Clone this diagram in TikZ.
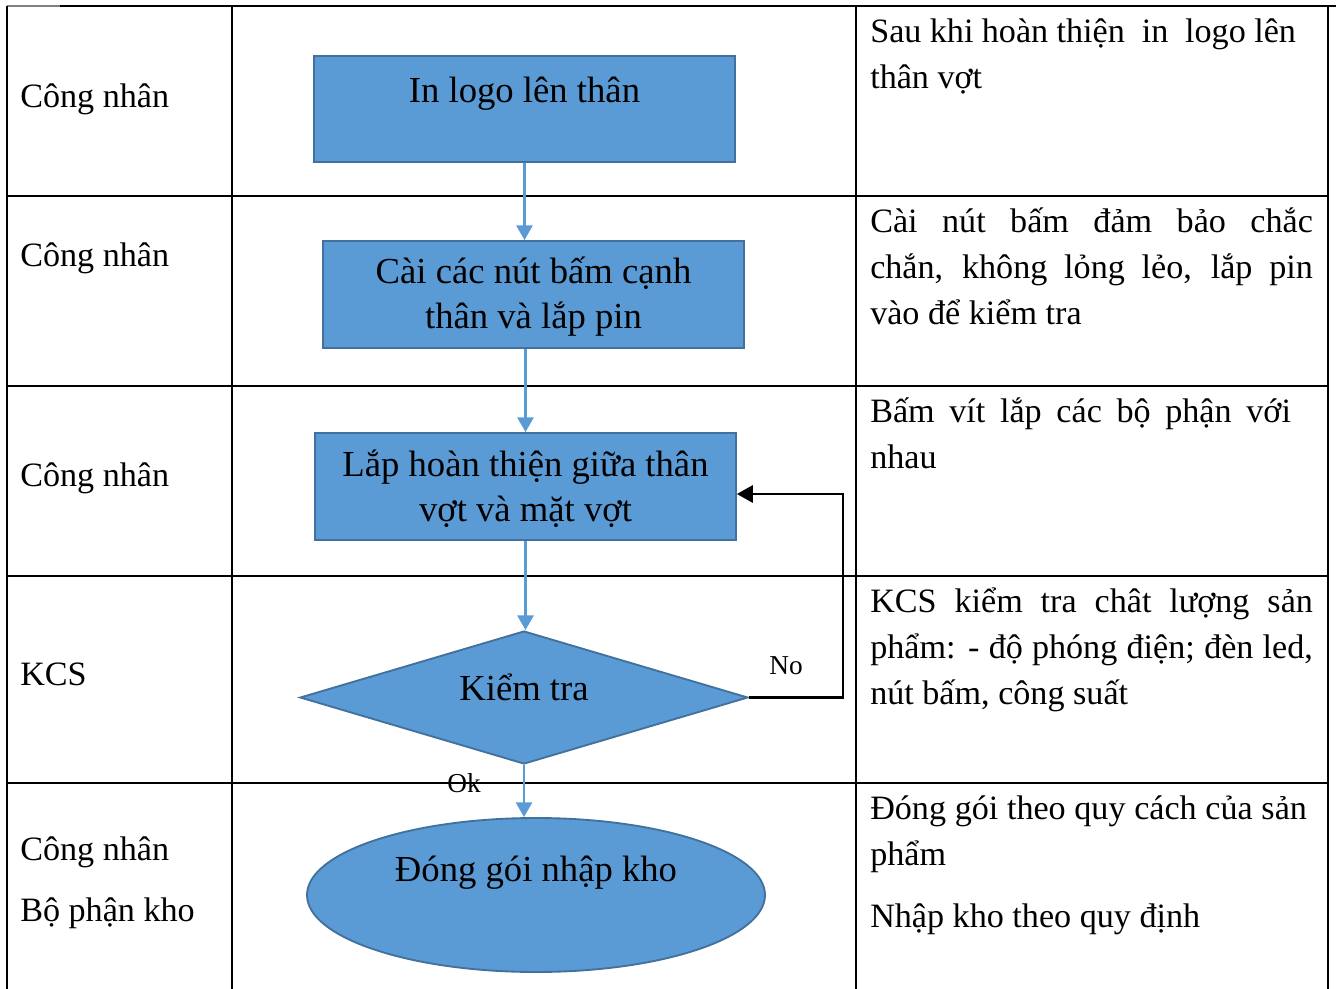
\documentclass[tikz,border=0pt]{standalone}
\usepackage{fontspec}
\setmainfont{Liberation Serif}
\usetikzlibrary{arrows.meta, shapes.geometric}

\definecolor{stepblue}{HTML}{5B9BD5}
\definecolor{stepedge}{HTML}{41719C}

\begin{document}
\begin{tikzpicture}
  [
    x=0.75pt, y=-0.75pt,
    grid/.style={line width=0.8pt},
    celltext/.style={anchor=base west, inner sep=0pt,
      font=\fontsize{25.6pt}{34.5pt}\selectfont},
    notetext/.style={celltext, text width=332pt, align=justify},
    stepbox/.style={draw=stepedge, line width=1.4pt, fill=stepblue,
      rectangle, minimum width=315.75pt, align=center,
      font=\fontsize{27.5pt}{33.75pt}\selectfont},
    checkbox/.style={stepbox, diamond, aspect=3.4, inner sep=0pt,
      minimum width=336pt, minimum height=99.75pt},
    endbox/.style={stepbox, ellipse, inner sep=0pt,
      minimum width=343.5pt, minimum height=115.5pt},
    flow/.style={draw=stepblue, line width=2pt,
      -{Triangle[length=11pt,width=12pt]}},
    back/.style={draw=black, line width=1.8pt,
      -{Triangle[length=12pt,width=13pt]}},
    branch/.style={inner sep=0pt, font=\fontsize{20.5pt}{24pt}\selectfont}
  ]
  \useasboundingbox (0,0) rectangle (1336,989);

  % table
  \draw[line width=1.3pt, gray] (7,6) -- (60,6);
  \draw[line width=1.3pt] (60,6) -- (1336,6);
  \foreach \x in {7,232,856,1328}
    \draw[grid] (\x,6) -- (\x,989);
  \foreach \y in {196,386,576,783}
    \draw[grid] (7,\y) -- (1328,\y);

  % who
  \node[celltext] (who1) at (20,107) {Công nhân};
  \node[celltext] (who2) at (20,266) {Công nhân};
  \node[celltext] (who3) at (20,486) {Công nhân};
  \node[celltext] (who4) at (20,685) {KCS};
  \node[celltext] (who5) at (20,860) {Công nhân};
  \node[celltext] (who6) at (20,921) {Bộ phận kho};

  % notes
  \node[notetext] (note1) at (870,42)
    {Sau khi hoàn thiện\ \ in\ \ logo lên\hspace*{12.75pt}\linebreak thân vợt};
  \node[notetext] (note2) at (870,232)
    {Cài nút bấm đảm bảo chắc\linebreak chắn, không lỏng lẻo, lắp pin\linebreak vào để kiểm tra};
  \node[notetext] (note3) at (870,422)
    {Bấm vít lắp các bộ phận với\hspace*{16.5pt}\linebreak nhau};
  \node[notetext] (note4) at (870,612)
    {KCS kiểm tra chât lượng sản\linebreak phẩm: - độ phóng điện; đèn led,\linebreak nút bấm, công suất};
  \node[notetext] (note5) at (870,819)
    {Đóng gói theo quy cách của sản\hspace*{4.5pt}\linebreak phẩm};
  \node[notetext] (note6) at (870,927)
    {Nhập kho theo quy định};

  % flow
  \node[stepbox, minimum height=79.5pt, text height=15pt, text depth=25.5pt]
    (print) at (524.5,109) {In logo lên thân};
  \node[stepbox, minimum height=80.25pt]
    (buttons) at (533.5,294.5) {\rule{0pt}{23pt}Cài các nút bấm cạnh\\thân và lắp pin};
  \node[stepbox, minimum height=80.25pt]
    (assemble) at (525.5,486.5) {\rule{0pt}{23pt}Lắp hoàn thiện giữa thân\\vợt và mặt vợt};
  \node[checkbox, text height=20pt, text depth=16.25pt]
    (check) at (524,697.5) {Kiểm tra};
  \node[endbox, text height=10pt, text depth=31pt]
    (pack) at (536,895) {Đóng gói nhập kho};

  \draw[flow] (print.south) -- (print.south |- buttons.north);
  \draw[flow] (assemble.north |- buttons.south) -- (assemble.north);
  \draw[flow] (assemble.south) -- (assemble.south |- check.north);
  \draw[flow] (check.south) -- (check.south |- pack.north);

  \coordinate (ret) at (843,494);
  \draw[back] (check.east) -- (ret |- check.east) -- (ret) -- (assemble.east |- ret);

  \node[branch] (no) at (786,666) {No};
  \node[branch] (ok) at (464,783) {Ok};
\end{tikzpicture}
\end{document}
